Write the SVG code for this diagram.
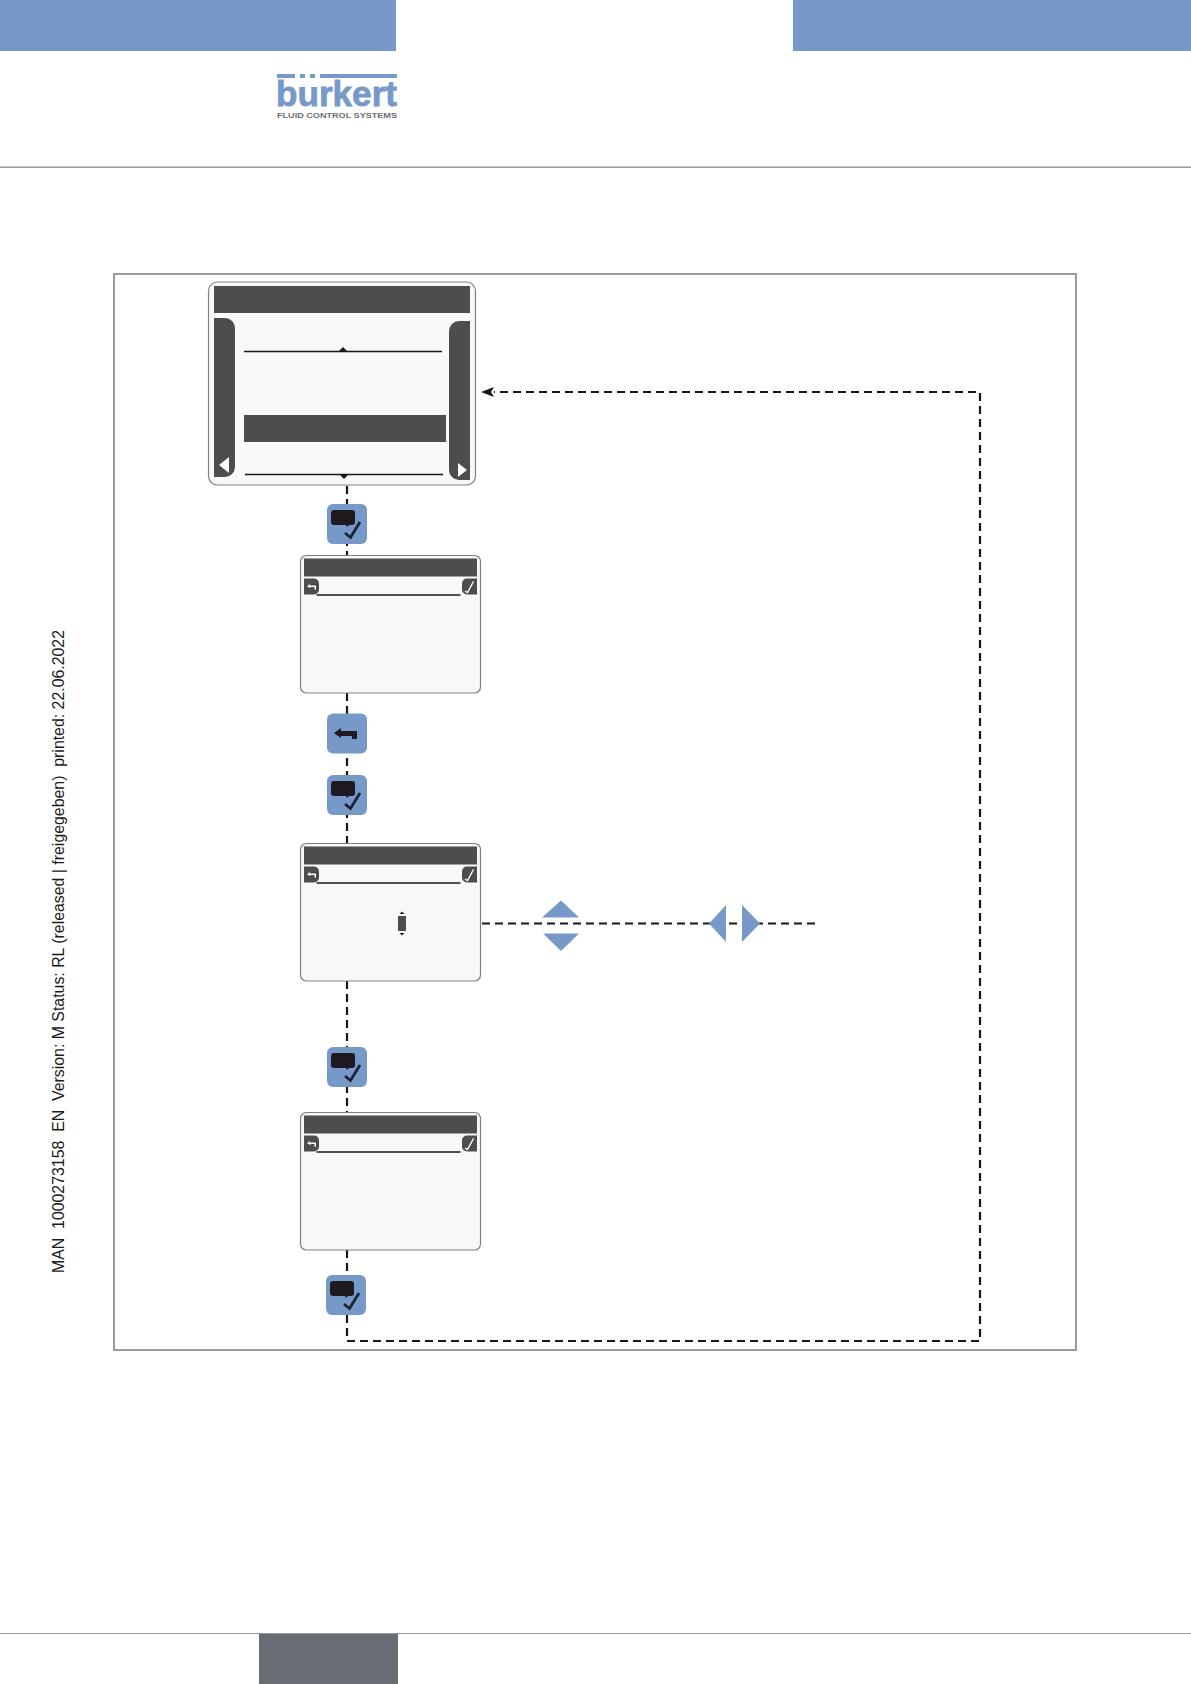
<svg xmlns="http://www.w3.org/2000/svg" xmlns:xlink="http://www.w3.org/1999/xlink" width="1191" height="1684" viewBox="0 0 1191 1684">
<style>
.blue{fill:#7699c9}
.dark{fill:#4e4c4d}
.scr{fill:#f8f8f8;stroke:#808080;stroke-width:1.2}
.rule{stroke:#1a171b;stroke-width:1.3;fill:none}
.dash{stroke:#1a171b;stroke-width:2.2;stroke-dasharray:8 5;fill:none}
.ink{fill:#1f1a1f}
.tick{fill:none;stroke:#1c2333;stroke-width:2.8}
.wtick{fill:none;stroke:#fff;stroke-width:1.4}
</style>
<defs>
<marker id="arr" markerUnits="userSpaceOnUse" markerWidth="15" markerHeight="14" refX="1" refY="7" orient="auto"><path d="M1 2L14 7L1 12L4 7Z" fill="#1a171b"/></marker>
<g id="okbtn">
<rect x="-20" y="-20" width="40" height="40" rx="6" class="blue"/>
<path d="M-16-11a3 3 0 0 1 3-3h18a3 3 0 0 1 3 3v9a3 3 0 0 1-3 3h-3l-2 2-1-2h-12a3 3 0 0 1-3-3z" class="ink"/>
<path d="M-2 9l5.500 4.500 9.500-15.500" class="tick"/>
</g>
<g id="backbtn">
<rect x="-20" y="-20" width="40" height="40" rx="6" class="blue"/>
<path d="M-13-0.500l7-5v3h16v8h-5v-3h-11v2z" class="ink"/>
</g>
<g id="small">
<rect class="scr" x="0" y="0" width="180" height="137.500" rx="6"/>
<rect class="dark" x="3.500" y="3" width="173" height="18"/>
<path class="dark" d="M3.500 23h10a5 5 0 0 1 5 5v6a5 5 0 0 1-5 5h-10z"/>
<path class="dark" d="M176.500 23h-10a5 5 0 0 0-5 5v6a5 5 0 0 0 5 5h10z"/>
<path d="M6.500 31l3-2.500v1.500h6v4h-1.500v-2.500h-4v1z" fill="#fff"/>
<path class="wtick" d="M164.500 35.500l2.500 1.500 6-11"/>
<path class="rule" d="M16 39.500H160"/>
</g>
</defs>

<g id="page">
<rect class="blue" x="0" y="0" width="396" height="51"/>
<rect class="blue" x="793" y="0" width="398" height="51"/>
<rect x="0" y="166.500" width="1191" height="1.300" fill="#8c8c8c"/>
<rect x="0" y="1633" width="1191" height="1" fill="#9a9a9a"/>
<rect x="259" y="1634" width="139" height="50" fill="#686c73"/>
<rect x="114" y="274" width="962" height="1076" fill="#fff" stroke="#999" stroke-width="2"/>
</g>

<g id="logo">
<text x="276" y="106" font-family="'Liberation Sans',Arial,sans-serif" font-weight="700" font-size="35" textLength="121" lengthAdjust="spacingAndGlyphs" fill="#7699c9" stroke="#7699c9" stroke-width="0.8">bürkert</text>
<rect x="299" y="78" width="18" height="9" fill="#fff"/>
<rect class="blue" x="277" y="74" width="18" height="4"/>
<rect class="blue" x="300" y="74" width="5" height="4"/>
<rect class="blue" x="310" y="74" width="5" height="4"/>
<rect class="blue" x="320" y="74" width="77" height="4"/>
<text x="277" y="117.500" font-family="'Liberation Sans',Arial,sans-serif" font-weight="700" font-size="7.500" textLength="120" lengthAdjust="spacingAndGlyphs" fill="#6d6f72">FLUID CONTROL SYSTEMS</text>
</g>

<text id="sidetext" transform="translate(64 1273) rotate(-90)" font-family="'Liberation Sans',Arial,sans-serif" font-size="16" textLength="643" lengthAdjust="spacingAndGlyphs" fill="#1a1a1a" xml:space="preserve">MAN  1000273158  EN  Version: M Status: RL (released | freigegeben)  printed: 22.06.2022</text>

<g id="connectors">
<path class="dash" d="M347 486V555"/>
<path class="dash" d="M347 693V843"/>
<path class="dash" d="M347 981V1113"/>
<path class="dash" d="M347 1250V1341H980V392H494" marker-end="url(#arr)"/>
<path class="dash" d="M482 923.500H815"/>
</g>

<g id="screen-1">
<rect class="scr" x="208.500" y="282" width="267" height="203" rx="9"/>
<rect class="dark" x="214" y="286" width="256" height="27"/>
<path class="dark" d="M214 318h11a10 10 0 0 1 10 10v139a10 10 0 0 1-10 10h-11z"/>
<path class="dark" d="M470 321h-11a10 10 0 0 0-10 10v139a10 10 0 0 0 10 10h11z"/>
<path d="M219 465l10-8v16z" fill="#fff"/>
<path d="M458 463v14l9-7z" fill="#fff"/>
<path class="rule" d="M244 351.500H442"/>
<path class="ink" d="M339 351l4-4 4 4z"/>
<rect class="dark" x="244" y="415" width="202" height="27"/>
<path class="rule" d="M245 474.500H443"/>
<path class="ink" d="M340 475l4 4 4-4z"/>
</g>

<g id="button-1"><use xlink:href="#okbtn" x="347" y="524"/></g>
<g id="screen-2"><use xlink:href="#small" x="300.500" y="555.500"/></g>
<g id="button-2"><use xlink:href="#backbtn" x="347" y="733.500"/></g>
<g id="button-3"><use xlink:href="#okbtn" x="347" y="795"/></g>
<g id="screen-3"><use xlink:href="#small" x="300.500" y="843.500"/>
<rect class="dark" x="398" y="916" width="8" height="15"/>
<path class="ink" d="M399.500 914l2.500-2.500 2.500 2.500z"/>
<path class="ink" d="M399.500 933l2.500 2.500 2.500-2.500z"/>
</g>
<g id="arrows-updown">
<path class="blue" d="M542 917.500l19-17 18 17z"/>
<path class="blue" d="M543 933.500h36l-18 17.500z"/>
</g>
<g id="arrows-leftright">
<path class="blue" d="M726 905v37l-17-18.500z"/>
<path class="blue" d="M742 905v37l18-18.500z"/>
</g>
<g id="button-4"><use xlink:href="#okbtn" x="347" y="1067"/></g>
<g id="screen-4"><use xlink:href="#small" x="300.500" y="1112.500"/></g>
<g id="button-5"><use xlink:href="#okbtn" x="346" y="1295"/></g>
</svg>
